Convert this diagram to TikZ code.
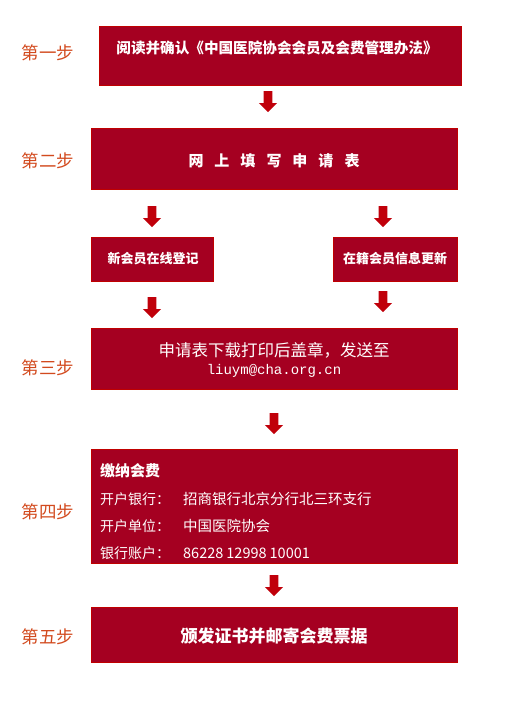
\documentclass[tikz,border=0pt]{standalone}
\usepackage{fontspec}
\newfontfamily\cjk{Noto Sans CJK SC}
\newfontfamily\mono{Liberation Mono}
\definecolor{boxred}{HTML}{A50021}
\definecolor{edgered}{HTML}{C00000}
\definecolor{arrowred}{HTML}{C0000A}
\definecolor{steptxt}{HTML}{D24A1E}
\tikzset{
  box/.style={fill=boxred, draw=edgered, line width=0.8pt, inner sep=0pt, anchor=north west},
  boxtext/.style={text=white, font=\cjk, inner sep=0pt},
  steplabel/.style={text=steptxt, font=\cjk\fontsize{17.5}{17.5}\selectfont, inner sep=0pt},
  downarrow/.pic={\fill[arrowred] (-4.3,0) -- (4.3,0) -- (4.3,12) -- (9.2,12) -- (0,21) -- (-9.2,12) -- (-4.3,12) -- cycle;}
}
\begin{document}
\begin{tikzpicture}[x=1pt,y=-1pt]
\useasboundingbox (0,0) rectangle (506,704);
% boxes
\node[box, minimum width=362pt, minimum height=59pt] (b1) at (99,26) {};
\node[box, minimum width=366pt, minimum height=61pt] (b2) at (91,128) {};
\node[box, minimum width=122pt, minimum height=44pt] (b3a) at (91,237) {};
\node[box, minimum width=124pt, minimum height=44pt] (b3b) at (333,237) {};
\node[box, minimum width=366pt, minimum height=61pt] (b4) at (91,328) {};
\node[box, minimum width=366pt, minimum height=114pt] (b5) at (91,449) {};
\node[box, minimum width=366pt, minimum height=55pt] (b6) at (91,607) {};
% texts
\node[boxtext, font=\cjk\bfseries\fontsize{14.6}{14.6}\selectfont] (t1) at (277,48) {阅读并确认《中国医院协会会员及会费管理办法》};
\node[boxtext, font=\cjk\bfseries\fontsize{15}{15}\selectfont] (t2) at (274,161) {网\hspace{11pt}上\hspace{11pt}填\hspace{11pt}写\hspace{11pt}申\hspace{11pt}请\hspace{11pt}表};
\node[boxtext, font=\cjk\bfseries\fontsize{13}{13}\selectfont] (t3a) at (153,259) {新会员在线登记};
\node[boxtext, font=\cjk\bfseries\fontsize{13}{13}\selectfont] (t3b) at (395,259) {在籍会员信息更新};
\node[boxtext, font=\cjk\fontsize{16.5}{16.5}\selectfont] (t4a) at (274,350) {申请表下载打印后盖章，发送至};
\node[boxtext, font=\mono\fontsize{14}{14}\selectfont] (t4b) at (274,371) {liuym@cha.org.cn};
\node[boxtext, anchor=west, font=\cjk\bfseries\fontsize{15}{15}\selectfont] (t5a) at (100,471) {缴纳会费};
\node[boxtext, anchor=west, font=\cjk\fontsize{14}{14}\selectfont] (t5b) at (100,499) {开户银行：};
\node[boxtext, anchor=west, font=\cjk\fontsize{14}{14}\selectfont] (t5c) at (100,526) {开户单位：};
\node[boxtext, anchor=west, font=\cjk\fontsize{14}{14}\selectfont] (t5d) at (100,553) {银行账户：};
\node[boxtext, anchor=west, font=\cjk\fontsize{14.5}{14.5}\selectfont] (t5e) at (183,499) {招商银行北京分行北三环支行};
\node[boxtext, anchor=west, font=\cjk\fontsize{14.5}{14.5}\selectfont] (t5f) at (183,526) {中国医院协会};
\node[boxtext, anchor=west, font=\cjk\fontsize{14.5}{14.5}\selectfont] (t5g) at (183,553) {86228\hspace{3pt}12998\hspace{3pt}10001};
\node[boxtext, font=\cjk\bfseries\fontsize{17}{17}\selectfont] (t6) at (274,636) {颁发证书并邮寄会费票据};
% step labels
\node[steplabel] (s1) at (48,53) {第一步};
\node[steplabel] (s2) at (48,161) {第二步};
\node[steplabel] (s3) at (48,368) {第三步};
\node[steplabel] (s4) at (48,512) {第四步};
\node[steplabel] (s5) at (48,637) {第五步};
% arrows
\pic at (268,91) {downarrow};
\pic at (152,206) {downarrow};
\pic at (383,206) {downarrow};
\pic at (152,297) {downarrow};
\pic at (383,291) {downarrow};
\pic at (274,413) {downarrow};
\pic at (274,575) {downarrow};
\end{tikzpicture}
\end{document}
